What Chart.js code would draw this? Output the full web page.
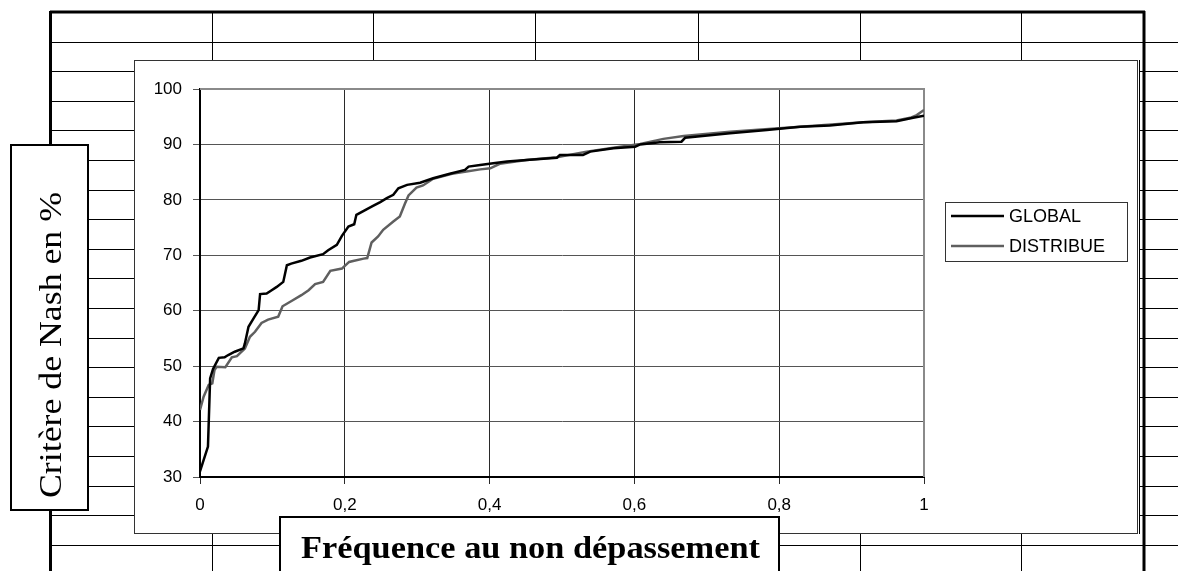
<!DOCTYPE html>
<html>
<head>
<meta charset="utf-8">
<script src="https://cdn.jsdelivr.net/npm/chart.js@4.4.1/dist/chart.umd.min.js"></script>
<style>
  body { margin: 0; background: #fff; }
  canvas { display: block; }
</style>
</head>
<body>
<canvas id="nashChart" width="1178" height="571"></canvas>
<script>
// values
const globalFreq = [
  0, 0.011, 0.014, 0.018, 0.026, 0.034, 0.039, 0.048, 0.060, 0.062,
  0.067, 0.074, 0.081, 0.083, 0.092, 0.099, 0.106, 0.115, 0.120, 0.126,
  0.140, 0.152, 0.170, 0.177, 0.189, 0.196, 0.205, 0.213, 0.216, 0.230,
  0.239, 0.249, 0.258, 0.267, 0.274, 0.286, 0.304, 0.322, 0.345, 0.366,
  0.371, 0.387, 0.405, 0.424, 0.460, 0.493, 0.497, 0.529, 0.539, 0.571,
  0.601, 0.608, 0.635, 0.665, 0.670, 0.732, 0.783, 0.829, 0.870, 0.916,
  0.962, 0.985, 1.0
];
const globalNash = [
  31, 35.5, 47.8, 49.5, 51.5, 51.6, 52.0, 52.6, 53.2, 54.1,
  57.1, 58.6, 60.1, 63.0, 63.1, 63.7, 64.3, 65.2, 68.2, 68.5,
  69.0, 69.6, 70.2, 70.9, 71.9, 73.5, 75.2, 75.6, 77.3, 78.3,
  78.9, 79.6, 80.3, 80.9, 82.1, 82.7, 83.1, 83.9, 84.7, 85.4,
  86.0, 86.3, 86.6, 86.9, 87.3, 87.6, 88.1, 88.1, 88.7, 89.3,
  89.6, 90.0, 90.4, 90.5, 91.2, 92.0, 92.6, 93.2, 93.4, 94.0,
  94.2, 94.8, 95.2
];
const distribFreq = [
  0, 0.005, 0.012, 0.017, 0.020, 0.023, 0.035, 0.044, 0.051, 0.062,
  0.069, 0.076, 0.085, 0.094, 0.108, 0.114, 0.127, 0.140, 0.150, 0.159,
  0.170, 0.180, 0.196, 0.206, 0.213, 0.226, 0.231, 0.237, 0.246, 0.253,
  0.267, 0.276, 0.283, 0.288, 0.299, 0.308, 0.322, 0.348, 0.368, 0.387,
  0.401, 0.414, 0.451, 0.493, 0.534, 0.571, 0.608, 0.640, 0.668, 0.732,
  0.829, 0.916, 0.962, 0.981, 0.990, 1.0
];
const distribNash = [
  42.1, 44.5, 46.6, 46.9, 49.3, 49.9, 49.8, 51.6, 51.8, 53.2,
  55.3, 56.2, 57.8, 58.4, 58.9, 60.8, 61.8, 62.8, 63.7, 64.8,
  65.2, 67.2, 67.6, 68.8, 69.0, 69.4, 69.5, 72.3, 73.4, 74.6,
  76.1, 77.0, 79.3, 80.8, 82.2, 82.6, 83.8, 84.7, 85.1, 85.5,
  85.7, 86.5, 87.2, 87.7, 88.7, 89.4, 90.1, 91.0, 91.5, 92.3,
  93.2, 94.0, 94.3, 94.8, 95.3, 96.2
];
const xTickLabels = ['0', '0,2', '0,4', '0,6', '0,8', '1'];
const yTickLabels = ['30', '40', '50', '60', '70', '80', '90', '100'];
const seriesNames = ['GLOBAL', 'DISTRIBUE'];
const seriesColors = ['#000000', '#5f5f5f'];
const yTitle = 'Critère de Nash en %';
const xTitle = 'Fréquence au non dépassement';

const SANS = "'Liberation Sans', Arial, sans-serif";
const SERIF = "'Liberation Serif', 'Times New Roman', serif";

function toPoints(xs, ys) {
    return xs.map((x, i) => ({ x: x, y: ys[i] }));
}

function line(ctx, x1, y1, x2, y2) {
    ctx.beginPath();
    ctx.moveTo(x1, y1);
    ctx.lineTo(x2, y2);
    ctx.stroke();
}

// draws text stretched to a given length (the source picture is a bit stretched)
function fitText(ctx, text, x, y, length) {
    const w = ctx.measureText(text).width;
    ctx.save();
    ctx.translate(x, y);
    ctx.scale(length / w, 1);
    ctx.fillText(text, 0, 0);
    ctx.restore();
}

// the spreadsheet cells behind the chart object, and the chart object frame
const sheetBackground = {
    id: 'sheetBackground',
    beforeDraw(chart) {
        const ctx = chart.ctx;
        ctx.save();
        ctx.fillStyle = '#fff';
        ctx.fillRect(0, 0, chart.width, chart.height);
        ctx.strokeStyle = '#000';
        ctx.lineWidth = 1;
        for (let k = 1; k < 19; k++) {
            const y = Math.round(12 + k * 29.6) + 0.5;
            line(ctx, 50, y, 1178, y);
        }
        [212, 373, 535, 698, 860, 1021].forEach(x => line(ctx, x + 0.5, 12, x + 0.5, 571));
        ctx.lineWidth = 3;
        line(ctx, 50, 12, 1145, 12);
        line(ctx, 50.5, 11, 50.5, 571);
        line(ctx, 1144, 11, 1144, 571);

        ctx.fillStyle = '#fff';
        ctx.fillRect(134, 60, 1005, 474);
        ctx.lineWidth = 1;
        ctx.strokeStyle = '#333';
        ctx.strokeRect(134.5, 60.5, 1003, 473);
        ctx.strokeStyle = '#000';
        line(ctx, 1139.5, 60, 1139.5, 534);
        ctx.restore();
    }
};

// grey top/right plot border, like the Excel plot area
const plotBorder = {
    id: 'plotBorder',
    beforeDatasetsDraw(chart) {
        const { ctx, chartArea: a } = chart;
        ctx.save();
        ctx.strokeStyle = '#8a8a8a';
        ctx.lineWidth = 2;
        ctx.beginPath();
        ctx.moveTo(a.left, a.top);
        ctx.lineTo(a.right, a.top);
        ctx.lineTo(a.right, a.bottom);
        ctx.stroke();
        ctx.restore();
    }
};

// legend box and the two axis title boxes
const overlays = {
    id: 'overlays',
    afterDraw(chart) {
        const ctx = chart.ctx;
        ctx.save();
        // legend
        ctx.fillStyle = '#fff';
        ctx.fillRect(945, 202, 182, 59);
        ctx.strokeStyle = '#333';
        ctx.lineWidth = 1;
        ctx.strokeRect(945.5, 202.5, 182, 59);
        ctx.font = '18px ' + SANS;
        ctx.textBaseline = 'middle';
        ctx.textAlign = 'left';
        chart.data.datasets.forEach((ds, i) => {
            const y = 216 + i * 30;
            ctx.strokeStyle = ds.borderColor;
            ctx.lineWidth = 2.5;
            line(ctx, 951, y, 1004, y);
            ctx.fillStyle = '#000';
            ctx.fillText(ds.label, 1009, y + 1);
        });

        // y title box
        ctx.fillStyle = '#fff';
        ctx.fillRect(11, 145, 77, 365);
        ctx.strokeStyle = '#000';
        ctx.lineWidth = 2;
        ctx.strokeRect(11, 145, 77, 365);
        ctx.save();
        ctx.translate(61, 498);
        ctx.rotate(-Math.PI / 2);
        ctx.font = '32px ' + SERIF;
        ctx.fillStyle = '#000';
        ctx.textBaseline = 'alphabetic';
        fitText(ctx, yTitle, 0, 0, 306);
        ctx.restore();

        // x title box
        ctx.fillStyle = '#fff';
        ctx.fillRect(280, 517, 499, 60);
        ctx.strokeRect(280, 517, 499, 60);
        ctx.font = 'bold 31px ' + SERIF;
        ctx.fillStyle = '#000';
        ctx.textBaseline = 'alphabetic';
        fitText(ctx, xTitle, 301, 558, 459);
        ctx.restore();
    }
};

const ctx = document.getElementById('nashChart').getContext('2d');
const chart = new Chart(ctx, {
    type: 'scatter',
    data: {
        datasets: [{
            label: seriesNames[0],
            data: toPoints(globalFreq, globalNash),
            borderColor: seriesColors[0],
            borderWidth: 2.5,
            showLine: true,
            pointRadius: 0,
            tension: 0
        }, {
            label: seriesNames[1],
            data: toPoints(distribFreq, distribNash),
            borderColor: seriesColors[1],
            borderWidth: 2.5,
            showLine: true,
            pointRadius: 0,
            tension: 0
        }]
    },
    options: {
        responsive: false,
        animation: false,
        devicePixelRatio: 1,
        layout: { padding: { left: 134, top: 89, right: 254, bottom: 40 } },
        plugins: {
            legend: { display: false },
            tooltip: { enabled: false }
        },
        scales: {
            x: {
                type: 'linear',
                min: 0,
                max: 1,
                afterFit: (scale) => { scale.height = 54; },
                afterBuildTicks: (scale) => {
                    scale.ticks = xTickLabels.map((t, i) => ({ value: i / (xTickLabels.length - 1) }));
                },
                ticks: {
                    callback: (value, index) => xTickLabels[index],
                    font: { family: SANS, size: 17 },
                    color: '#000',
                    padding: 11,
                    maxRotation: 0
                },
                grid: { color: '#2a2a2a', lineWidth: 1, tickLength: 7 },
                border: { color: '#000', width: 2 }
            },
            y: {
                min: 30,
                max: 100,
                afterFit: (scale) => { scale.width = 66; },
                ticks: {
                    stepSize: 10,
                    callback: (value, index) => yTickLabels[index],
                    font: { family: SANS, size: 17 },
                    color: '#000',
                    padding: 11
                },
                grid: { color: '#555', lineWidth: 1, tickLength: 7 },
                border: { color: '#000', width: 2 }
            }
        }
    },
    plugins: [sheetBackground, plotBorder, overlays]
});
</script>
</body>
</html>
